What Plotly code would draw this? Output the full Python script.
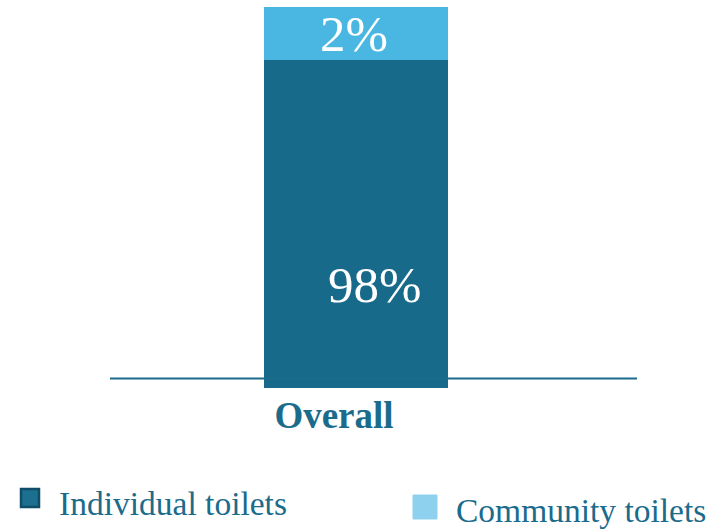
import plotly.graph_objects as go

categories = ["Overall"]
series_names = ["Individual toilets", "Community toilets"]
individual = [98]
community = [2]

DARK = "#186a8b"
LIGHT = "#4ab7e3"
LEGEND_LIGHT = "#8dd1ef"
TEXT = "#1a6b8c"
FONT = "Liberation Serif"

W, H = 714, 529
def py(px):
    return 1 - px / H
def px_(x):
    return x / W

fig = go.Figure()
fig.add_trace(go.Bar(x=categories, y=individual, name=series_names[0],
                     marker=dict(color=DARK, line=dict(width=0)), width=1))
fig.add_trace(go.Bar(x=categories, y=community, name=series_names[1],
                     marker=dict(color=LIGHT, line=dict(width=0)), width=1))

# y scale: 100 at 7px, 98 at 60px
ppu = 26.5
plot_bottom = 388
ymin = 100 - (plot_bottom - 7) / ppu
ymax = 100 + 7 / ppu

bar_center = 356
bar_w = 184
xl = -bar_center / bar_w
xr = (W - bar_center) / bar_w

fig.update_layout(
    width=W, height=H,
    margin=dict(l=0, r=0, t=0, b=0),
    paper_bgcolor="white", plot_bgcolor="white",
    barmode="stack", showlegend=False,
    xaxis=dict(range=[xl, xr], showgrid=False,
               zeroline=False, showline=False, fixedrange=True,
               tickmode="array", tickvals=categories,
               ticktext=[f"<b>{c}</b>" for c in categories],
               tickfont=dict(family=FONT, size=37, color=TEXT),
               ticks="", ticklabelshift=-22, ticklabelstandoff=2),
    yaxis=dict(range=[ymin, ymax], domain=[1 - plot_bottom / H, 1],
               showticklabels=False, showgrid=False, zeroline=False,
               showline=False),
    font=dict(family=FONT, color=TEXT),
)

# baseline axis line
fig.add_shape(type="line", xref="paper", yref="paper",
              x0=px_(110), x1=px_(637), y0=py(378.5), y1=py(378.5),
              line=dict(color=TEXT, width=2))

# value labels
fig.add_annotation(x=0, y=individual[0] + community[0] / 2, xref="x", yref="y",
                   text=f"{community[0]}%", showarrow=False, xshift=-2,
                   font=dict(family=FONT, size=51, color="white"))
fig.add_annotation(x=px_(374), y=py(285), xref="paper", yref="paper",
                   text=f"{individual[0]}%", showarrow=False,
                   font=dict(family=FONT, size=51, color="white"))

# legend
fig.add_shape(type="rect", xref="paper", yref="paper",
              x0=px_(21), x1=px_(39), y0=py(489), y1=py(507),
              fillcolor="#1d6f90", line=dict(color="#0f4d69", width=2.5))
fig.add_annotation(x=px_(57), y=py(503), xref="paper", yref="paper",
                   xanchor="left", yanchor="middle", text=series_names[0],
                   showarrow=False, font=dict(family=FONT, size=33.5, color=TEXT))
fig.add_shape(type="rect", xref="paper", yref="paper",
              x0=px_(413), x1=px_(437), y0=py(495), y1=py(519),
              fillcolor=LEGEND_LIGHT, line=dict(color=LEGEND_LIGHT, width=1))
fig.add_annotation(x=px_(454), y=py(510), xref="paper", yref="paper",
                   xanchor="left", yanchor="middle", text=series_names[1],
                   showarrow=False, font=dict(family=FONT, size=33.5, color=TEXT))

fig.write_html("out.html")
